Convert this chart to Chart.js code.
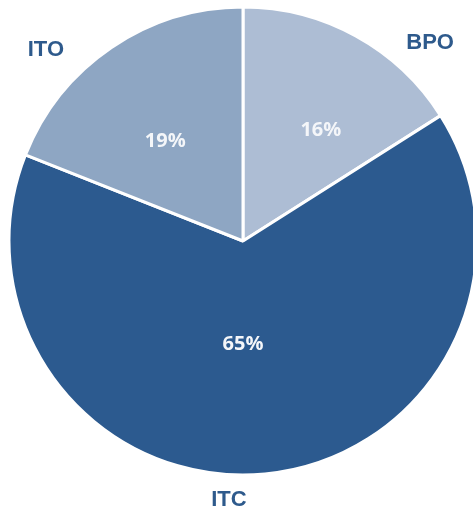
<!DOCTYPE html>
<html>
<head>
<meta charset="utf-8">
<script src="https://cdn.jsdelivr.net/npm/chart.js@4.4.0/dist/chart.umd.min.js"></script>
<style>
  html, body { margin: 0; padding: 0; background: #fff; overflow: hidden; }
  #wrap { width: 480px; height: 514px; }
</style>
</head>
<body>
<div id="wrap"><canvas id="myChart" width="480" height="514"></canvas></div>
<script>
// ---- data ----
const segments = ['BPO', 'ITC', 'ITO'];
const shares = [16, 65, 19];
const sliceColors = ['#adbdd4', '#2c5a8f', '#8ea6c3'];

// label placement: polar (deg from 12 o'clock, fraction of radius)
const pctPlace = [[35, 0.58], [180, 0.44], [-38, 0.54]];
const namePlace = [[43.4, 1.164], [183.1, 1.108], [-45.9, 1.173]];

const sliceLabels = {
  id: 'sliceLabels',
  afterDatasetsDraw(chart) {
    const { ctx } = chart;
    const meta = chart.getDatasetMeta(0);
    ctx.save();
    ctx.textAlign = 'center';
    ctx.textBaseline = 'middle';
    meta.data.forEach((arc, i) => {
      const { x, y, outerRadius } = arc.getProps(['x', 'y', 'outerRadius'], true);
      const pos = (p) => {
        const a = p[0] * Math.PI / 180;
        return [x + Math.sin(a) * outerRadius * p[1], y - Math.cos(a) * outerRadius * p[1]];
      };
      // percentage inside the slice
      let [px, py] = pos(pctPlace[i]);
      ctx.fillStyle = '#f4f6f9';
      ctx.font = 'bold 20px "Open Sans", sans-serif';
      ctx.fillText(shares[i] + '%', px, py);
      // segment name outside the pie
      let [nx, ny] = pos(namePlace[i]);
      ctx.fillStyle = '#2e5a8c';
      ctx.font = 'bold 22px "Liberation Sans", Arial, sans-serif';
      ctx.fillText(segments[i], nx, ny);
    });
    ctx.restore();
  }
};

const config = {
  type: 'pie',
  data: {
    labels: segments,
    datasets: [{
      data: shares,
      backgroundColor: sliceColors,
      borderColor: '#ffffff',
      borderWidth: 3
    }]
  },
  options: {
    responsive: false,
    animation: false,
    layout: { padding: { left: 7.5, right: 1.5, top: 5.5, bottom: 37.5 } },
    plugins: {
      legend: { display: false },
      tooltip: { enabled: false }
    }
  },
  plugins: [sliceLabels]
};

const myChart = new Chart(document.getElementById('myChart'), config);
</script>
</body>
</html>
